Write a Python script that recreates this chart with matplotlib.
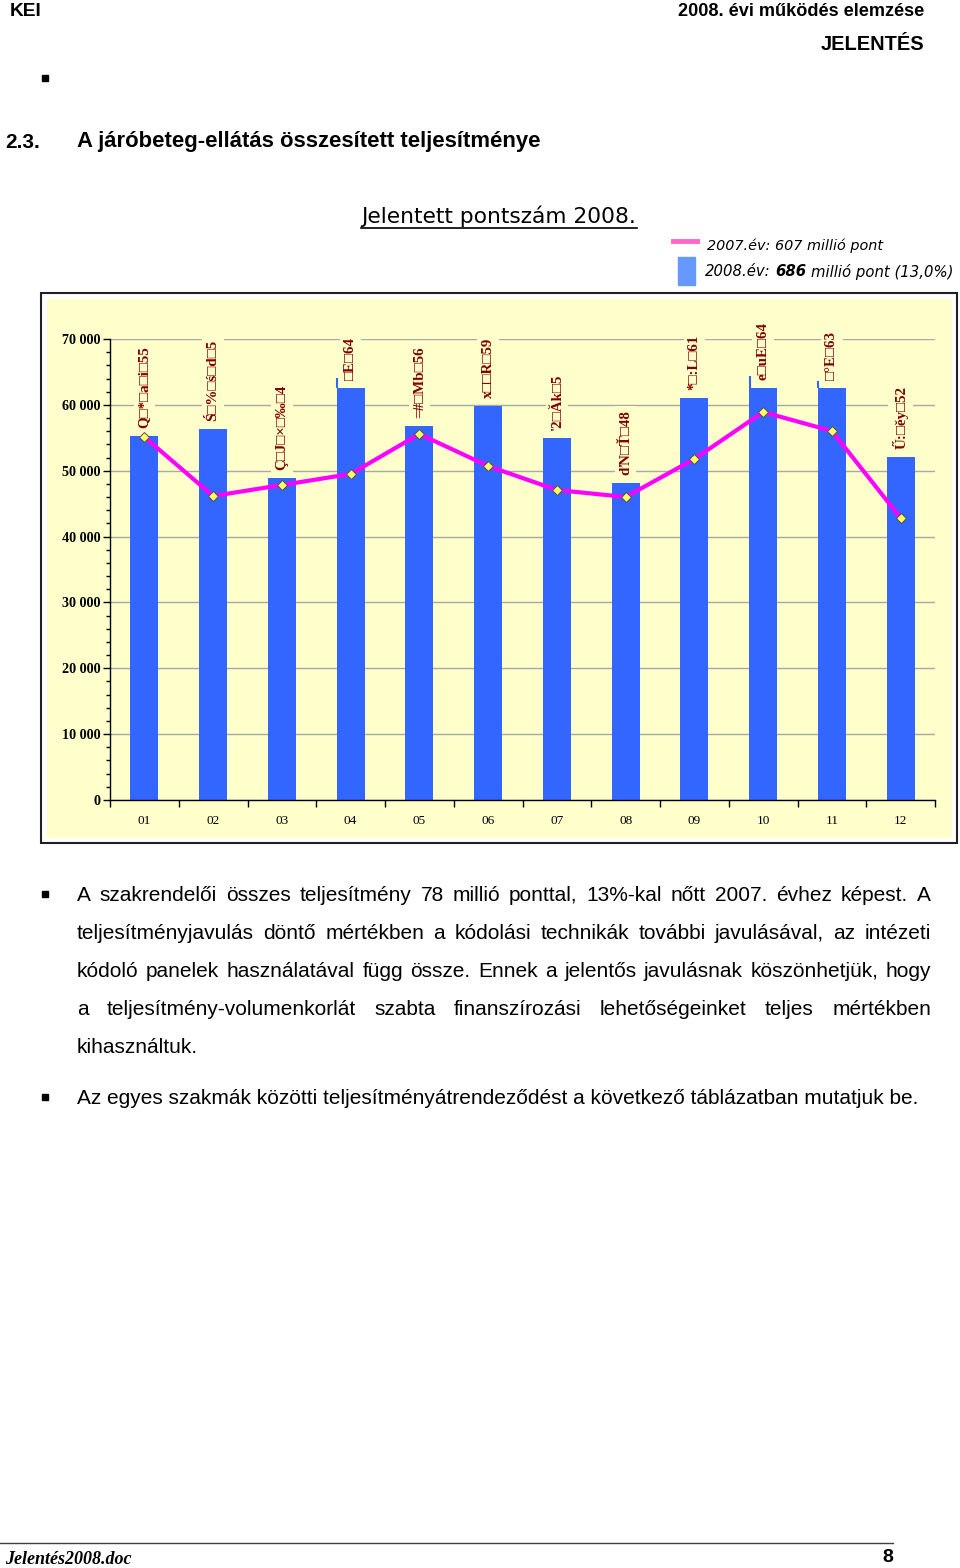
import matplotlib
matplotlib.use("Agg")
import matplotlib.pyplot as plt
from matplotlib.patches import Rectangle
from matplotlib.lines import Line2D
from matplotlib.ticker import MultipleLocator, FixedLocator, NullFormatter, FuncFormatter

W, H = 960, 1568

# data
months = ["01", "02", "03", "04", "05", "06", "07", "08", "09", "10", "11", "12"]
pontszam_2008 = [55270, 56330, 48890, 62560, 56790, 59830, 54970, 48130, 61040, 62560, 62560, 52080]
spike_2008 = [None, None, None, 64080, None, None, None, None, None, 64380, 63620, None]
pontszam_2007 = [55120, 46160, 47830, 49500, 55570, 50710, 47070, 46010, 51780, 58910, 56030, 42820]
bar_labels = ["Q□*□a□i□55", "Ś□%□ś□d□5", "Ç□J□×□‰□4", "□E□64", "=#□Mb□56", "x□□R□59",
              "'2□Ăk□5", "ďN□Ť□48", "*□:L□61", "e□uE□64", "□°E□63", "Ű:□ěy□52"]

body_lines = [
    "A szakrendelői összes teljesítmény 78 millió ponttal, 13%-kal nőtt 2007. évhez képest. A",
    "teljesítményjavulás döntő mértékben a kódolási technikák további javulásával, az intézeti",
    "kódoló panelek használatával függ össze. Ennek a jelentős javulásnak köszönhetjük, hogy",
    "a teljesítmény-volumenkorlát szabta finanszírozási lehetőségeinket teljes mértékben",
    "kihasználtuk.",
]
last_line = "Az egyes szakmák közötti teljesítményátrendeződést a következő táblázatban mutatjuk be."

SANS = ["Liberation Sans", "DejaVu Sans"]
SERIF = ["Liberation Serif", "DejaVu Serif"]

fig = plt.figure(figsize=(W / 100, H / 100), dpi=100)
renderer = fig.canvas.get_renderer()


def fx(x):
    return x / W


def fy(y):
    return 1 - y / H


def put(x, y, s, **kw):
    return fig.text(fx(x), fy(y), s, **kw)


def width(t):
    return t.get_window_extent(renderer).width


def fit(t, target):
    t.set_fontsize(t.get_fontsize() * target / width(t))


# header
t = put(10, 12, "KEI", family=SANS, weight="bold", fontsize=13, va="center")
fit(t, 32)
t = put(924, 12, "2008. évi működés elemzése", family=SANS, weight="bold", fontsize=12,
        ha="right", va="center")
fit(t, 244)
t = put(924, 44, "JELENTÉS", family=SANS, weight="bold", fontsize=12, ha="right", va="center")
fit(t, 103)
fig.add_artist(Rectangle((fx(42), fy(81)), 6 / W, 6 / H, color="black", transform=fig.transFigure))

t = put(5, 142, "2.3.", family=SANS, weight="bold", fontsize=13, va="center")
fit(t, 35)
t = put(77, 142, "A járóbeteg-ellátás összesített teljesítménye", family=SANS, weight="bold",
        fontsize=13, va="center")
fit(t, 464)

# chart title + legend
t = put(361, 216, "Jelentett pontszám 2008.", family=["DejaVu Sans"], fontsize=14, va="center")
fit(t, 276)
fig.add_artist(Line2D([fx(361), fx(637)], [fy(228), fy(228)], color="black", lw=1.2,
                      transform=fig.transFigure))

fig.add_artist(Line2D([fx(673), fx(697)], [fy(241), fy(241)], color="#FF66CC", lw=3.5,
                      transform=fig.transFigure))
fig.add_artist(Rectangle((fx(678), fy(285)), 17 / W, 28 / H, color="#6699FF",
                         transform=fig.transFigure))
leg_kw = dict(family=["DejaVu Sans"], style="italic", fontsize=11.5, va="center")
t = put(707, 246, "2007.év: 607 millió pont", **leg_kw)
fit(t, 177)

pieces = [("2008.év:", "normal"), ("686", "bold"), ("millió pont (13,0%)", "normal")]


def legend_line(fs):
    kw = dict(leg_kw, fontsize=fs)
    a = put(0, 0, "a a", **kw)
    b = put(0, 0, "aa", **kw)
    space = width(a) - width(b)
    a.remove()
    b.remove()
    texts = [put(705, 272, p, weight=wt, **kw) for p, wt in pieces]
    widths = [width(tt) for tt in texts]
    x0 = 705
    for tt, w in zip(texts, widths):
        tt.set_x(fx(x0))
        x0 += w + space
    return texts, x0 - space - 705


fs = t.get_fontsize()
texts, total = legend_line(fs)
for tt in texts:
    tt.remove()
legend_line(fs * 247 / total)

# chart frame
fig.add_artist(Rectangle((fx(41), fy(843)), 916 / W, 550 / H, facecolor="white",
                         edgecolor="#202020", lw=1.5, transform=fig.transFigure, zorder=-2))
fig.add_artist(Rectangle((fx(47), fy(838)), 905 / W, 539 / H, facecolor="#FFFFCC",
                         edgecolor="none", transform=fig.transFigure, zorder=-1))

ax = fig.add_axes([fx(110), fy(800), 825 / W, 461 / H])
ax.set_facecolor("none")
x = list(range(len(months)))
bar_w = 0.41
ax.bar(x, pontszam_2008, width=bar_w, color="#3366FF", zorder=2)
for i, s in enumerate(spike_2008):
    if s is not None:
        ax.vlines(i - bar_w / 2 + 0.01, pontszam_2008[i], s, color="#3366FF", lw=1.5, zorder=2)
ax.plot(x, pontszam_2007, color="#FF00FF", lw=3, marker="D", ms=5, mfc="#FFFF66",
        mec="#505050", mew=0.7, zorder=4)

for i, lab in enumerate(bar_labels):
    ax.annotate(lab, (i, pontszam_2008[i]), xytext=(0, 6), textcoords="offset points",
                rotation=90, ha="center", va="bottom", fontsize=10.8, fontweight="bold",
                color="#800000", family=SERIF, annotation_clip=False, zorder=5,
                bbox=dict(facecolor="#FFFFCC", edgecolor="none", pad=3))

ax.set_xlim(-0.5, len(months) - 0.5)
ax.set_ylim(0, 70000)
ax.yaxis.set_major_locator(MultipleLocator(10000))
ax.yaxis.set_minor_locator(MultipleLocator(2000))
ax.yaxis.set_major_formatter(FuncFormatter(lambda v, p: f"{int(v):,}".replace(",", " ")))
ax.xaxis.set_major_locator(FixedLocator([i + 0.5 for i in range(-1, len(months))]))
ax.xaxis.set_major_formatter(NullFormatter())
ax.xaxis.set_minor_locator(FixedLocator(x))
ax.xaxis.set_minor_formatter(FuncFormatter(lambda v, p: months[int(round(v))]))
ax.tick_params(axis="x", which="major", length=5, width=1, direction="out")
ax.tick_params(axis="x", which="minor", length=0, pad=11, labelsize=9.5)
ax.tick_params(axis="y", which="major", length=5, width=1, direction="out", pad=2, labelsize=10.2)
ax.tick_params(axis="y", which="minor", length=3, width=1, direction="out")
for lab in ax.get_yticklabels():
    lab.set_family(SERIF)
    lab.set_weight("bold")
for lab in ax.get_xticklabels(minor=True):
    lab.set_family(SERIF)
ax.grid(axis="y", color="#A8A8A8", lw=1)
ax.set_axisbelow(True)
for side in ["top", "right"]:
    ax.spines[side].set_visible(False)
ax.spines["left"].set_linewidth(1)
ax.spines["bottom"].set_linewidth(1)

# body text
body_kw = dict(family=SANS, fontsize=14, va="baseline")
t = put(77, 1104, last_line, **body_kw)
fit(t, 847)
body_kw["fontsize"] = t.get_fontsize()

left, right = 77, 931
baselines = [901, 939, 977, 1015, 1053]
for k, line in enumerate(body_lines):
    if k == len(body_lines) - 1:
        put(left, baselines[k], line, **body_kw)
        continue
    words = line.split(" ")
    texts = [put(left, baselines[k], w, **body_kw) for w in words]
    widths = [width(tt) for tt in texts]
    gap = (right - left - sum(widths)) / (len(words) - 1)
    xpos = left
    for tt, w in zip(texts, widths):
        tt.set_x(fx(xpos))
        xpos += w + gap

for yb in [894, 1097]:
    fig.add_artist(Rectangle((fx(42), fy(yb + 3)), 6 / W, 6 / H, color="black",
                             transform=fig.transFigure))

# footer
fig.add_artist(Line2D([0, fx(893)], [fy(1543), fy(1543)], color="#404040", lw=1,
                      transform=fig.transFigure))
put(5, 1559, "Jelentés2008.doc", family=SERIF, weight="bold", style="italic", fontsize=13,
    va="center")
put(893, 1558, "8", family=SANS, weight="bold", fontsize=14, ha="right", va="center")

fig.savefig("out.png", dpi=100)
